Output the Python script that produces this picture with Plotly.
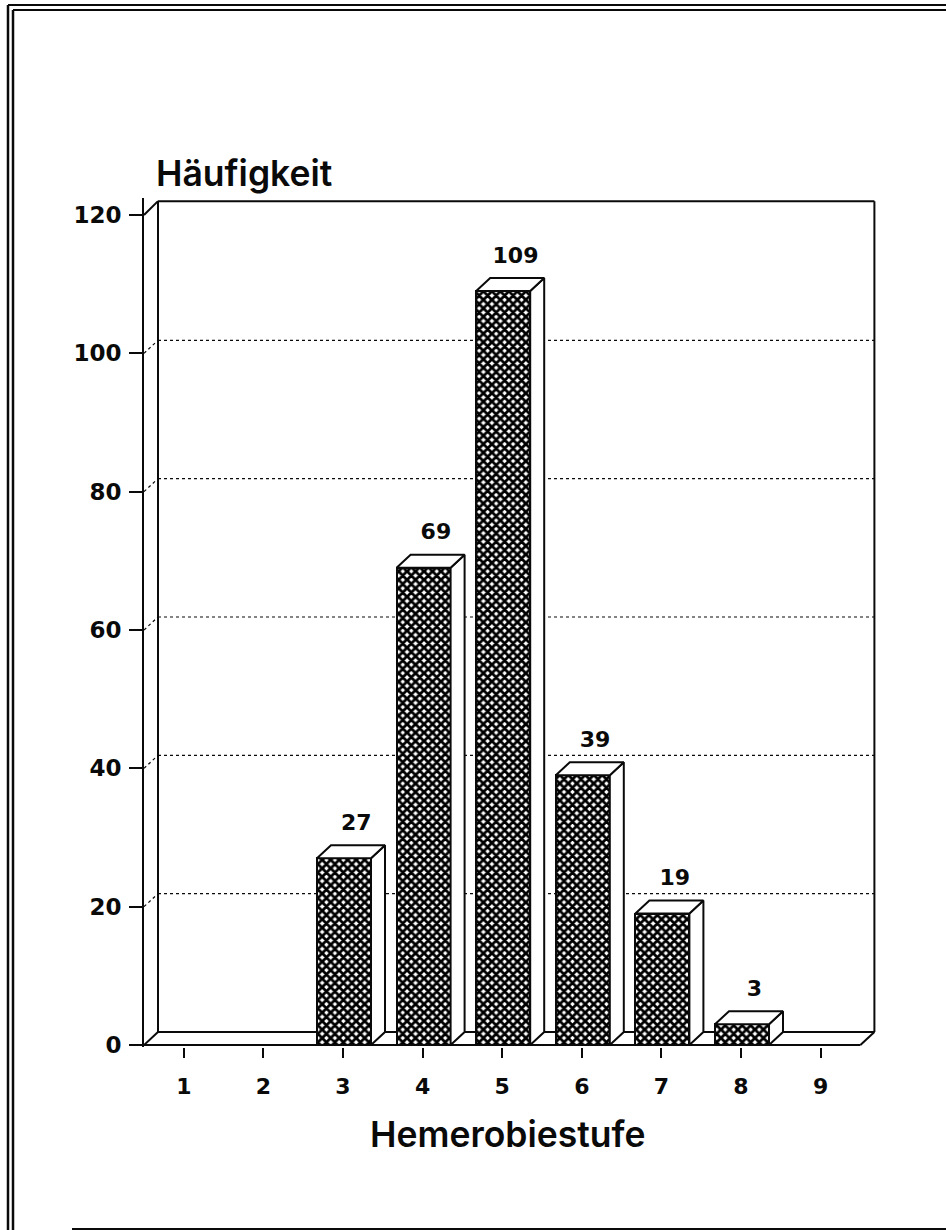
import plotly.graph_objects as go

stufen = [1, 2, 3, 4, 5, 6, 7, 8, 9]
haeufigkeit = [0, 0, 27, 69, 109, 39, 19, 3, 0]
y_ticks = [0, 20, 40, 60, 80, 100, 120]
grid_levels = [20, 40, 60, 80, 100]
x_title = "Hemerobiestufe"
y_title = "Häufigkeit"

W, H = 946, 1230
L, R, T, B = 144, 878, 198, 1047
PX_X = 79.6
PX_Y = 6.917
DX = 14 / PX_X       # depth of the pseudo-3D box in data units
DY = 13 / PX_Y
BAR_W = 54 / PX_X
BAR_SHIFT = 1 / PX_X
X0 = 0.5
X1 = 9.5
wall_top = 122.0
ink = "#0a0a0a"
NUM_FONT = "DejaVu Sans"
TITLE_FONT = "Inter"

shapes = []
def seg(x0, y0, x1, y1, width=2, dash="solid"):
    shapes.append(dict(type="line", x0=x0, y0=y0, x1=x1, y1=y1, layer="below",
                       line=dict(color=ink, width=width, dash=dash)))

# walls and floor
seg(X0 + DX, DY, X0 + DX, wall_top)
seg(X0 + DX, wall_top, X1 + DX, wall_top)
seg(X1 + DX, DY, X1 + DX, wall_top)
seg(X0 + DX, DY, X1 + DX, DY)
seg(X0, 0, X1, 0)
seg(X0, 0, X0 + DX, DY)
seg(X1, 0, X1 + DX, DY)
seg(X0, 120, X0 + DX, wall_top)
# dotted grid on the back wall
for v in grid_levels:
    seg(X0, v, X0 + DX, v + DY, width=1.2, dash="dot")
    seg(X0 + DX, v + DY, X1 + DX, v + DY, width=1.2, dash="dot")

# frame of the page
def frame_line(px0, py0, px1, py1, width):
    fx = lambda p: (p - L) / (R - L)
    fy = lambda p: 1 - (p - T) / (B - T)
    shapes.append(dict(type="line", xref="paper", yref="paper", x0=fx(px0), x1=fx(px1),
                       y0=fy(py0), y1=fy(py1), line=dict(color=ink, width=width), layer="below"))
frame_line(8, 5, 8, 1235, 2.5)
frame_line(8, 5, 950, 5, 2)
frame_line(13, 10, 13, 1235, 2.5)
frame_line(13, 10, 950, 10, 2)
frame_line(72, 1229, 950, 1229, 2)

fig = go.Figure()
xs = [s + BAR_SHIFT for s, n in zip(stufen, haeufigkeit) if n > 0]
ys = [n for n in haeufigkeit if n > 0]

fig.add_trace(go.Bar(
    x=xs, y=ys, width=BAR_W,
    marker=dict(color="#111111", line=dict(color=ink, width=2),
                pattern=dict(shape="x", fgcolor="#000000", fgopacity=1, bgcolor="#ffffff",
                             size=6, solidity=0.72)),
    hoverinfo="skip", showlegend=False))

# side and top faces
for x, n in zip(xs, ys):
    a, b = x - BAR_W / 2, x + BAR_W / 2
    fig.add_trace(go.Scatter(
        x=[b, b + DX, b + DX, b, b], y=[0, DY, n + DY, n, 0], mode="lines", fill="toself",
        fillcolor="white", line=dict(color=ink, width=2), hoverinfo="skip", showlegend=False))
    fig.add_trace(go.Scatter(
        x=[a, a + DX, b + DX, b, a], y=[n, n + DY, n + DY, n, n], mode="lines", fill="toself",
        fillcolor="white", line=dict(color=ink, width=2), hoverinfo="skip", showlegend=False))

fig.add_trace(go.Scatter(
    x=[x + DX * 0.88 for x in xs], y=[n + DY + 3 for n in ys],
    text=[str(n) for n in ys], mode="text", textposition="middle center",
    textfont=dict(family=NUM_FONT, size=22, color=ink, weight=700),
    hoverinfo="skip", showlegend=False))

fig.add_annotation(text=y_title, xref="paper", yref="paper",
                   x=(154 - L) / (R - L), y=1 - (173 - T) / (B - T), xanchor="left", yanchor="middle",
                   showarrow=False, font=dict(family=TITLE_FONT, size=35.5, color=ink, weight=600))
fig.add_annotation(text=x_title, xref="paper", yref="paper",
                   x=(508 - L) / (R - L), y=1 - (1134 - T) / (B - T), xanchor="center", yanchor="middle",
                   showarrow=False, font=dict(family=TITLE_FONT, size=35.5, color=ink, weight=600))

fig.update_layout(
    width=W, height=H, autosize=False, paper_bgcolor="white", plot_bgcolor="white",
    margin=dict(l=L, r=W - R, t=T, b=H - B, pad=0),
    shapes=shapes, showlegend=False, bargap=0,
    xaxis=dict(range=[X0, X0 + (R - L) / PX_X], tickmode="array", tickvals=stufen,
               ticktext=[str(s) for s in stufen], ticks="outside", ticklen=10, tickwidth=2,
               tickcolor=ink, showgrid=False, zeroline=False, showline=False, ticklabelstandoff=10,
               tickfont=dict(family=NUM_FONT, size=22, color=ink, weight=700)),
    yaxis=dict(range=[-(B - 1045) / PX_Y, (1045 - T) / PX_Y], tickmode="array", tickvals=y_ticks,
               ticks="outside", ticklen=13, tickwidth=2, tickcolor=ink, showgrid=False,
               zeroline=False, showline=True, linewidth=2, linecolor=ink, ticklabelstandoff=3,
               tickfont=dict(family=NUM_FONT, size=23, color=ink, weight=700)),
)

fig.write_html("out.html", post_script="document.body.style.margin='0';",
               config={"displayModeBar": False})
